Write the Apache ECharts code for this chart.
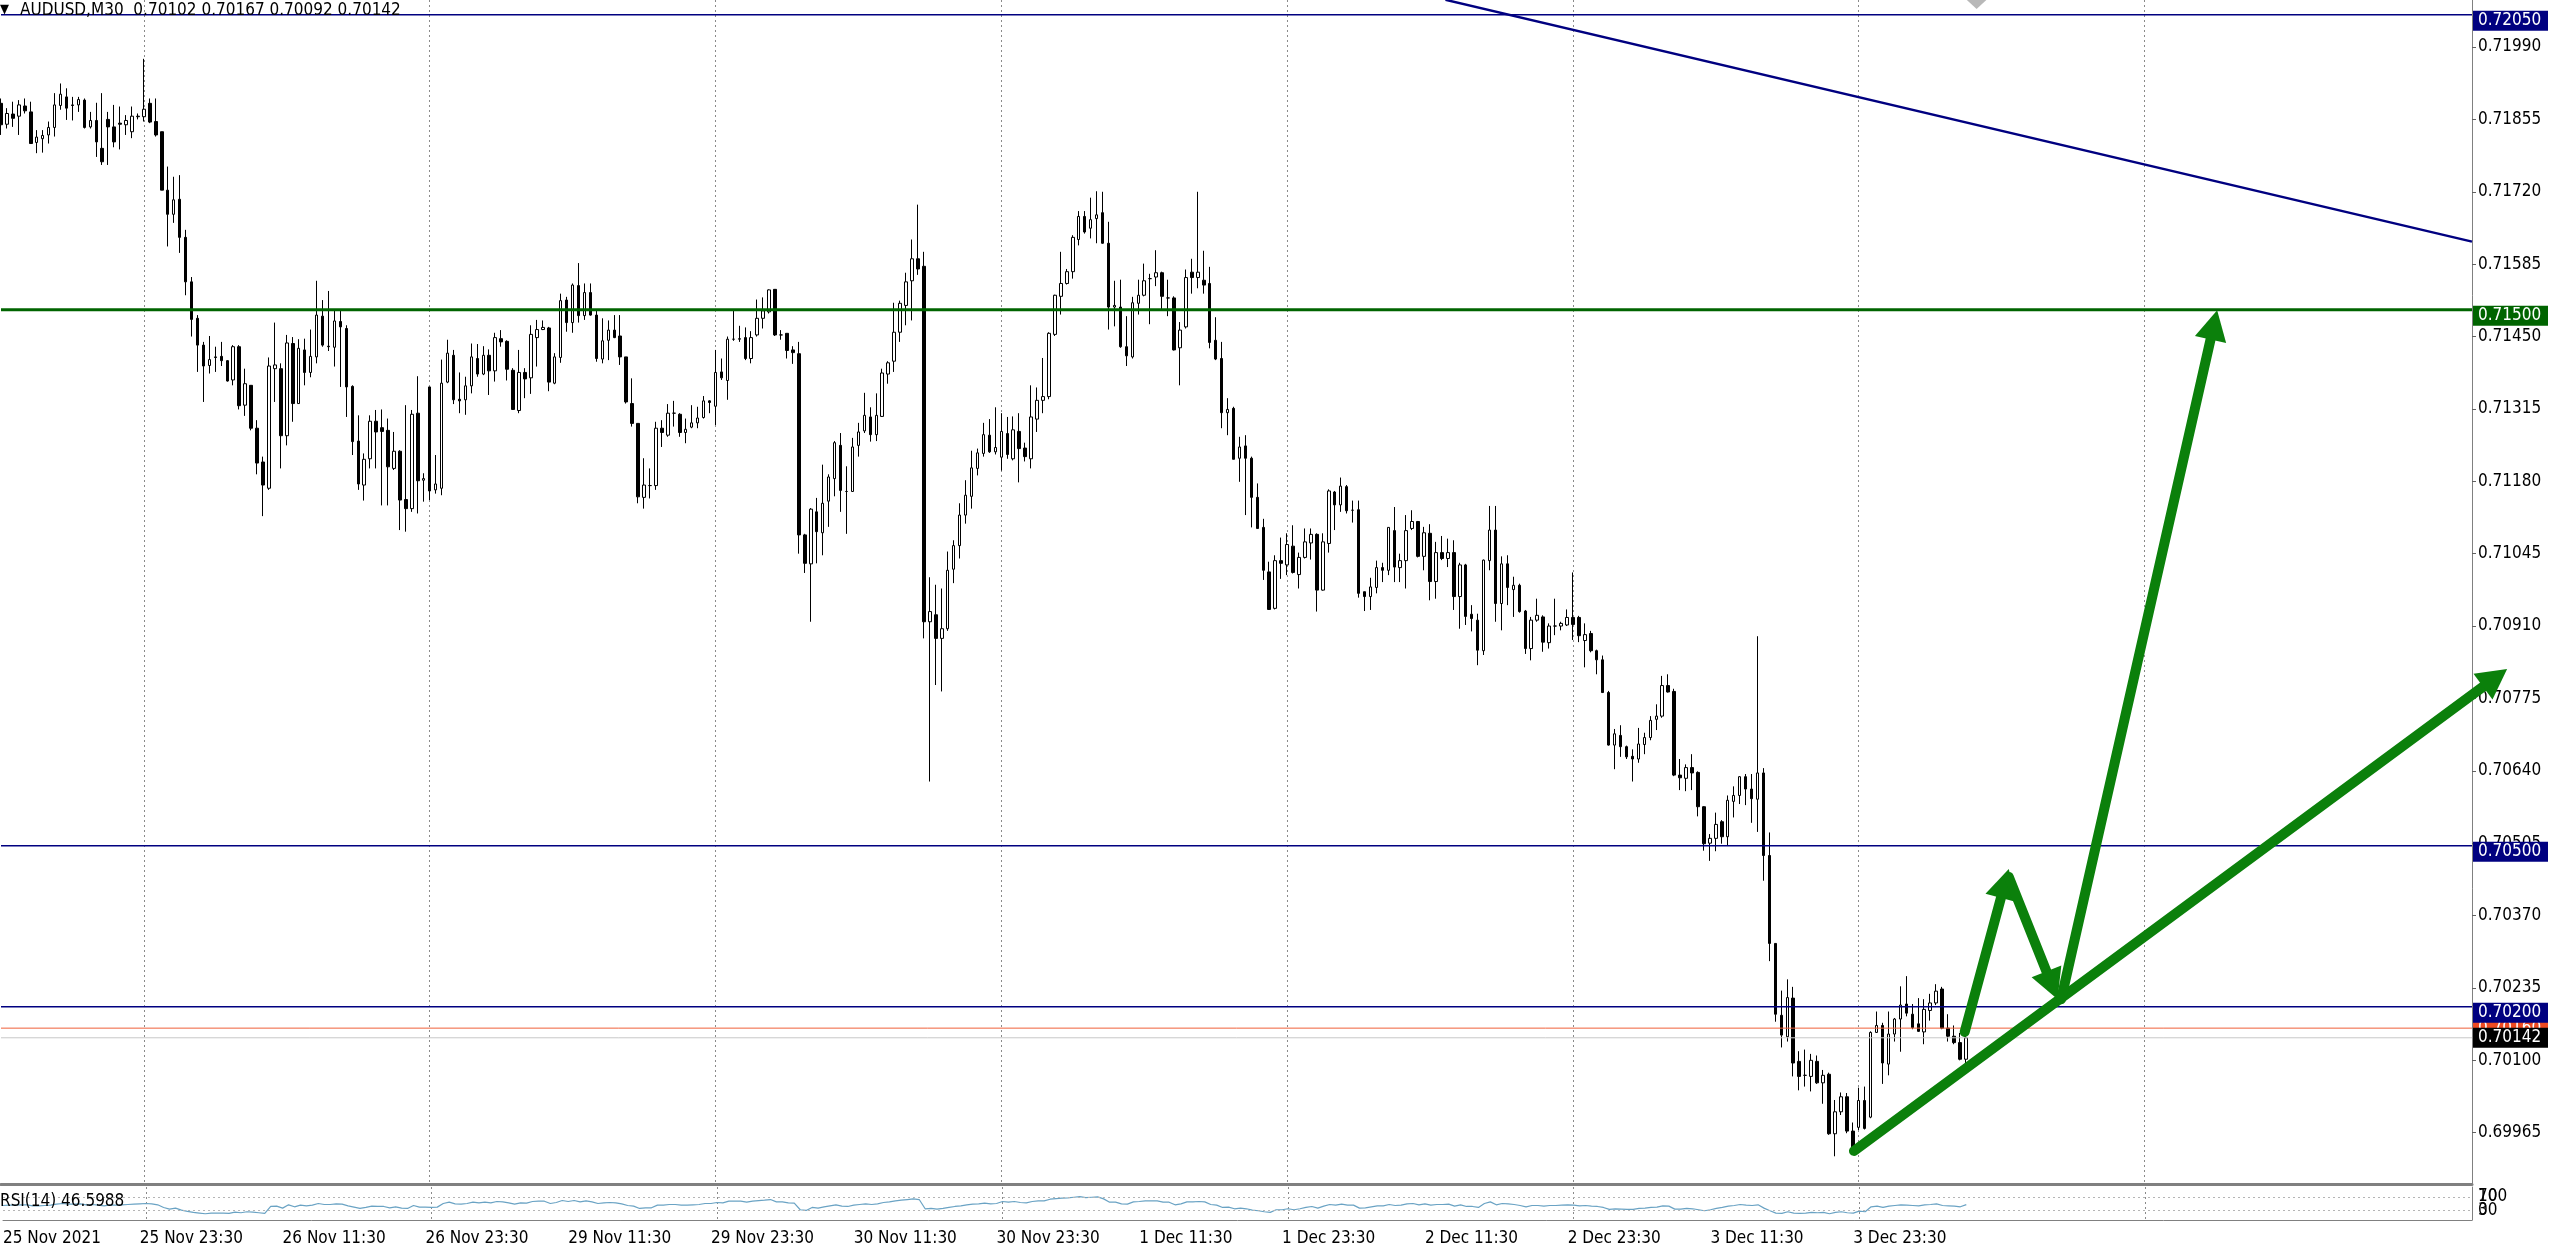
<!DOCTYPE html>
<html><head><meta charset="utf-8">
<script src="https://cdn.jsdelivr.net/npm/echarts@6/dist/echarts.min.js"></script>
<style>html,body{margin:0;padding:0;background:#fff;overflow:hidden}#c{width:2560px;height:1247px}</style>
</head><body><div id="c"></div>
<script>
const FONT = "'DejaVu Sans Condensed','DejaVu Sans','Liberation Sans',sans-serif";

// ---- candles (M30 bars, index 0 = 25 Nov 2021 11:30) ----
const opens = [0.71885,0.71846,0.71865,0.71861,0.71880,0.71869,0.71812,0.71819,0.71826,0.71840,0.71881,0.71897,0.71882,0.71882,0.71891,0.71841,0.71853,0.71801,0.71855,0.71841,0.71848,0.71845,0.71832,0.71860,0.71860,0.71885,0.71851,0.71832,0.71723,0.71678,0.71706,0.71635,0.71552,0.71484,0.71434,0.71396,0.71412,0.71413,0.71405,0.71369,0.71431,0.71322,0.71359,0.71279,0.71216,0.71167,0.71390,0.71390,0.71265,0.71437,0.71325,0.71425,0.71383,0.71412,0.71488,0.71432,0.71430,0.71478,0.71465,0.71357,0.71255,0.71173,0.71222,0.71292,0.71280,0.71275,0.71204,0.71236,0.71146,0.71129,0.71307,0.71182,0.71356,0.71164,0.71167,0.71365,0.71415,0.71333,0.71332,0.71358,0.71409,0.71380,0.71415,0.71386,0.71446,0.71441,0.71387,0.71312,0.71383,0.71373,0.71448,0.71463,0.71466,0.71363,0.71411,0.71518,0.71476,0.71545,0.71489,0.71532,0.71490,0.71408,0.71443,0.71462,0.71451,0.71412,0.71325,0.71288,0.71150,0.71172,0.71172,0.71279,0.71266,0.71307,0.71305,0.71271,0.71281,0.71289,0.71299,0.71330,0.71320,0.71384,0.71368,0.71445,0.71445,0.71448,0.71409,0.71453,0.71484,0.71496,0.71538,0.71453,0.71456,0.71425,0.71418,0.71080,0.71026,0.71123,0.71084,0.71143,0.71185,0.71247,0.71161,0.71161,0.71247,0.71274,0.71300,0.71267,0.71301,0.71380,0.71404,0.71458,0.71508,0.71554,0.71595,0.71581,0.70918,0.70931,0.70887,0.70905,0.71016,0.71060,0.71117,0.71152,0.71204,0.71232,0.71266,0.71235,0.71225,0.71269,0.71222,0.71273,0.71242,0.71222,0.71296,0.71331,0.71338,0.71454,0.71525,0.71549,0.71571,0.71631,0.71674,0.71652,0.71670,0.71681,0.71624,0.71505,0.71505,0.71431,0.71412,0.71512,0.71527,0.71558,0.71561,0.71569,0.71522,0.71522,0.71429,0.71468,0.71570,0.71560,0.71555,0.71549,0.71443,0.71409,0.71308,0.71316,0.71223,0.71246,0.71223,0.71150,0.71094,0.71011,0.70943,0.71032,0.71024,0.71059,0.71006,0.71038,0.71065,0.71081,0.70977,0.71064,0.71160,0.71136,0.71170,0.71126,0.71127,0.70974,0.70965,0.70982,0.71019,0.71014,0.71088,0.71019,0.71032,0.71092,0.71105,0.71040,0.71083,0.70993,0.71047,0.71036,0.71047,0.70965,0.71024,0.70932,0.70921,0.70864,0.71032,0.71089,0.70952,0.71026,0.70978,0.70986,0.70938,0.70868,0.70921,0.70927,0.70879,0.70910,0.70910,0.70912,0.70926,0.70926,0.70883,0.70896,0.70864,0.70847,0.70786,0.70688,0.70706,0.70685,0.70667,0.70662,0.70689,0.70702,0.70736,0.70742,0.70799,0.70788,0.70632,0.70626,0.70646,0.70637,0.70573,0.70505,0.70514,0.70545,0.70517,0.70583,0.70594,0.70629,0.70606,0.70587,0.70636,0.70482,0.70318,0.70184,0.70144,0.70216,0.70098,0.70072,0.70070,0.70098,0.70058,0.70074,0.69963,0.70004,0.70032,0.69968,0.69975,0.70025,0.69994,0.70152,0.70165,0.70093,0.70149,0.70177,0.70205,0.70186,0.70168,0.70153,0.70193,0.70207,0.70233,0.70160,0.70145,0.70133,0.70102];
const closes = [0.71845,0.71866,0.71857,0.71882,0.71871,0.71810,0.71822,0.71825,0.71840,0.71882,0.71902,0.71876,0.71881,0.71892,0.71840,0.71853,0.71813,0.71776,0.71841,0.71813,0.71846,0.71853,0.71861,0.71861,0.71874,0.71850,0.71826,0.71723,0.71678,0.71705,0.71635,0.71552,0.71482,0.71434,0.71395,0.71407,0.71411,0.71405,0.71367,0.71431,0.71321,0.71362,0.71279,0.71214,0.71173,0.71395,0.71397,0.71265,0.71438,0.71325,0.71428,0.71383,0.71413,0.71490,0.71434,0.71431,0.71479,0.71468,0.71356,0.71254,0.71175,0.71221,0.71292,0.71272,0.71273,0.71207,0.71236,0.71145,0.71129,0.71305,0.71181,0.71185,0.71162,0.71175,0.71363,0.71419,0.71332,0.71330,0.71358,0.71412,0.71380,0.71415,0.71386,0.71448,0.71440,0.71389,0.71314,0.71383,0.71371,0.71454,0.71463,0.71467,0.71365,0.71412,0.71517,0.71476,0.71546,0.71489,0.71532,0.71490,0.71409,0.71442,0.71462,0.71448,0.71412,0.71328,0.71288,0.71151,0.71173,0.71172,0.71279,0.71271,0.71307,0.71307,0.71271,0.71277,0.71289,0.71298,0.71330,0.71327,0.71383,0.71373,0.71445,0.71445,0.71446,0.71409,0.71448,0.71484,0.71498,0.71537,0.71453,0.71453,0.71424,0.71420,0.71080,0.71027,0.71128,0.71086,0.71139,0.71188,0.71252,0.71163,0.71161,0.71244,0.71272,0.71303,0.71267,0.71303,0.71382,0.71401,0.71458,0.71512,0.71552,0.71595,0.71576,0.70918,0.70937,0.70887,0.70905,0.71014,0.71060,0.71117,0.71154,0.71205,0.71233,0.71267,0.71235,0.71243,0.71273,0.71230,0.71276,0.71241,0.71226,0.71300,0.71331,0.71338,0.71456,0.71527,0.71549,0.71571,0.71635,0.71674,0.71645,0.71668,0.71677,0.71624,0.71505,0.71508,0.71431,0.71414,0.71513,0.71527,0.71554,0.71558,0.71569,0.71525,0.71522,0.71425,0.71462,0.71560,0.71560,0.71570,0.71546,0.71439,0.71408,0.71308,0.71314,0.71221,0.71244,0.71223,0.71150,0.71092,0.71014,0.70941,0.71032,0.71027,0.71062,0.71010,0.71038,0.71067,0.71081,0.70977,0.71067,0.71162,0.71136,0.71171,0.71125,0.71126,0.70971,0.70965,0.70983,0.71019,0.71014,0.71094,0.71020,0.71032,0.71088,0.71105,0.71040,0.71084,0.70993,0.71047,0.71036,0.71047,0.70965,0.71024,0.70928,0.70924,0.70865,0.71033,0.71089,0.70952,0.71026,0.70982,0.70986,0.70937,0.70868,0.70921,0.70930,0.70880,0.70910,0.70910,0.70915,0.70926,0.70913,0.70892,0.70894,0.70864,0.70847,0.70786,0.70688,0.70709,0.70685,0.70666,0.70662,0.70690,0.70702,0.70734,0.70742,0.70799,0.70787,0.70632,0.70627,0.70646,0.70636,0.70573,0.70504,0.70514,0.70540,0.70517,0.70585,0.70594,0.70629,0.70606,0.70588,0.70636,0.70482,0.70318,0.70186,0.70147,0.70217,0.70095,0.70070,0.70072,0.70100,0.70058,0.70072,0.69963,0.70004,0.70032,0.69968,0.69938,0.70025,0.69973,0.70152,0.70165,0.70095,0.70149,0.70177,0.70203,0.70188,0.70161,0.70154,0.70195,0.70207,0.70229,0.70160,0.70145,0.70133,0.70102,0.70142];
const lows = [0.71826,0.71838,0.71841,0.71826,0.71866,0.71810,0.71792,0.71793,0.71810,0.71823,0.71873,0.71854,0.71853,0.71869,0.71838,0.71838,0.71785,0.71770,0.71770,0.71803,0.71799,0.71826,0.71820,0.71855,0.71851,0.71848,0.71823,0.71723,0.71618,0.71662,0.71606,0.71527,0.71450,0.71384,0.71328,0.71381,0.71384,0.71395,0.71366,0.71359,0.71314,0.71302,0.71275,0.71193,0.71115,0.71164,0.71328,0.71204,0.71247,0.71291,0.71325,0.71359,0.71374,0.71400,0.71431,0.71423,0.71394,0.71356,0.71300,0.71229,0.71164,0.71144,0.71204,0.71204,0.71135,0.71135,0.71201,0.71089,0.71086,0.71123,0.71120,0.71142,0.71145,0.71157,0.71154,0.71363,0.71324,0.71307,0.71304,0.71344,0.71375,0.71378,0.71341,0.71366,0.71431,0.71368,0.71313,0.71307,0.71335,0.71343,0.71394,0.71462,0.71348,0.71361,0.71401,0.71459,0.71457,0.71476,0.71481,0.71489,0.71403,0.71400,0.71406,0.71447,0.71397,0.71325,0.71282,0.71139,0.71129,0.71148,0.71164,0.71244,0.71263,0.71282,0.71263,0.71251,0.71279,0.71279,0.71297,0.71307,0.71285,0.71369,0.71332,0.71442,0.71440,0.71406,0.71400,0.71450,0.71465,0.71493,0.71451,0.71444,0.71409,0.71399,0.71045,0.71009,0.70918,0.71027,0.71042,0.71095,0.71152,0.71123,0.71082,0.71160,0.71226,0.71270,0.71254,0.71255,0.71300,0.71362,0.71384,0.71440,0.71471,0.71480,0.71565,0.70887,0.70620,0.70800,0.70788,0.70901,0.70990,0.71036,0.71101,0.71129,0.71191,0.71226,0.71233,0.71230,0.71200,0.71222,0.71219,0.71178,0.71217,0.71204,0.71272,0.71307,0.71333,0.71451,0.71491,0.71547,0.71558,0.71620,0.71642,0.71633,0.71624,0.71623,0.71463,0.71469,0.71429,0.71395,0.71409,0.71491,0.71525,0.71473,0.71544,0.71500,0.71488,0.71424,0.71359,0.71465,0.71530,0.71540,0.71530,0.71428,0.71406,0.71279,0.71266,0.71221,0.71179,0.71117,0.71094,0.71092,0.70996,0.70940,0.70941,0.70998,0.71005,0.71008,0.70980,0.71036,0.71034,0.70937,0.70976,0.71047,0.71089,0.71123,0.71120,0.71103,0.70963,0.70938,0.70940,0.70971,0.70992,0.71005,0.70992,0.70992,0.70980,0.71089,0.71038,0.71014,0.70958,0.70961,0.71033,0.71020,0.70940,0.70905,0.70912,0.70900,0.70837,0.70856,0.71014,0.70918,0.70902,0.70949,0.70927,0.70935,0.70858,0.70846,0.70918,0.70862,0.70868,0.70893,0.70902,0.70910,0.70884,0.70880,0.70833,0.70861,0.70820,0.70785,0.70687,0.70643,0.70666,0.70662,0.70620,0.70655,0.70671,0.70697,0.70716,0.70739,0.70786,0.70630,0.70604,0.70602,0.70604,0.70555,0.70491,0.70472,0.70490,0.70504,0.70501,0.70553,0.70578,0.70576,0.70543,0.70526,0.70435,0.70285,0.70172,0.70124,0.70135,0.70070,0.70044,0.70051,0.70042,0.70056,0.70019,0.69961,0.69921,0.69998,0.69964,0.69935,0.69970,0.69971,0.69992,0.70151,0.70056,0.70072,0.70135,0.70116,0.70182,0.70158,0.70153,0.70130,0.70174,0.70203,0.70158,0.70135,0.70130,0.70100,0.70092];
const highs = [0.71894,0.71876,0.71888,0.71891,0.71894,0.71888,0.71835,0.71835,0.71851,0.71904,0.71922,0.71913,0.71897,0.71897,0.71894,0.71869,0.71886,0.71904,0.71869,0.71882,0.71879,0.71863,0.71879,0.71866,0.71968,0.71894,0.71894,0.71832,0.71767,0.71748,0.71751,0.71649,0.71561,0.71490,0.71440,0.71451,0.71431,0.71440,0.71406,0.71434,0.71434,0.71390,0.71359,0.71294,0.71226,0.71411,0.71476,0.71400,0.71453,0.71449,0.71445,0.71446,0.71463,0.71554,0.71518,0.71535,0.71498,0.71500,0.71471,0.71359,0.71303,0.71232,0.71303,0.71313,0.71314,0.71297,0.71272,0.71238,0.71322,0.71313,0.71376,0.71195,0.71356,0.71229,0.71407,0.71444,0.71425,0.71383,0.71375,0.71437,0.71436,0.71432,0.71426,0.71457,0.71462,0.71443,0.71391,0.71425,0.71391,0.71471,0.71481,0.71480,0.71468,0.71419,0.71530,0.71524,0.71549,0.71587,0.71549,0.71549,0.71499,0.71484,0.71480,0.71490,0.71490,0.71412,0.71372,0.71288,0.71223,0.71204,0.71291,0.71294,0.71324,0.71330,0.71307,0.71297,0.71322,0.71319,0.71339,0.71331,0.71425,0.71409,0.71450,0.71499,0.71470,0.71467,0.71460,0.71519,0.71523,0.71538,0.71538,0.71462,0.71456,0.71432,0.71440,0.71082,0.71130,0.71149,0.71211,0.71193,0.71255,0.71270,0.71208,0.71261,0.71289,0.71345,0.71318,0.71344,0.71390,0.71404,0.71513,0.71517,0.71569,0.71631,0.71696,0.71608,0.71001,0.70987,0.70980,0.71049,0.71070,0.71139,0.71182,0.71237,0.71241,0.71289,0.71296,0.71318,0.71307,0.71300,0.71301,0.71307,0.71252,0.71359,0.71355,0.71410,0.71458,0.71528,0.71608,0.71576,0.71639,0.71684,0.71684,0.71709,0.71721,0.71720,0.71664,0.71554,0.71556,0.71488,0.71524,0.71556,0.71586,0.71567,0.71611,0.71571,0.71556,0.71525,0.71477,0.71575,0.71595,0.71720,0.71610,0.71580,0.71486,0.71440,0.71335,0.71319,0.71263,0.71266,0.71226,0.71176,0.71110,0.71030,0.71042,0.71075,0.71083,0.71098,0.71047,0.71092,0.71092,0.71083,0.71083,0.71165,0.71162,0.71187,0.71173,0.71144,0.71144,0.70974,0.71000,0.71032,0.71028,0.71094,0.71132,0.71045,0.71117,0.71126,0.71106,0.71095,0.71100,0.71067,0.71078,0.71073,0.71070,0.71028,0.71026,0.70949,0.70933,0.71034,0.71134,0.71134,0.71040,0.71042,0.71002,0.70989,0.70940,0.70927,0.70961,0.70930,0.70915,0.70961,0.70918,0.70941,0.71010,0.70929,0.70915,0.70901,0.70866,0.70855,0.70789,0.70718,0.70725,0.70687,0.70680,0.70720,0.70711,0.70742,0.70764,0.70817,0.70820,0.70793,0.70662,0.70652,0.70671,0.70639,0.70574,0.70522,0.70562,0.70548,0.70594,0.70611,0.70630,0.70634,0.70634,0.70891,0.70645,0.70525,0.70318,0.70230,0.70251,0.70237,0.70117,0.70120,0.70112,0.70109,0.70082,0.70077,0.70026,0.70040,0.70039,0.69984,0.70049,0.70051,0.70154,0.70191,0.70170,0.70191,0.70179,0.70238,0.70257,0.70205,0.70216,0.70214,0.70224,0.70242,0.70237,0.70186,0.70165,0.70151,0.70167];

// ---- RSI(14) read from the lower window ----
const rsi14 = [44,45,45,46,46,43,43,44,45,48,50,48,48,49,46,47,45,43,46,45,46,47,48,49,50,49,46,38,33,36,30,26,23,21,19,21,21,21,20,24,22,25,24,22,20,41,42,36,46,40,45,43,45,50,47,47,49,48,43,39,35,38,42,41,41,37,40,36,35,44,39,39,38,39,50,54,49,48,50,54,52,54,52,56,55,52,48,52,51,56,57,57,50,53,59,56,59,55,58,55,50,52,53,52,49,44,42,35,37,37,45,45,47,47,45,45,46,47,50,50,53,52,57,57,57,54,57,59,60,62,55,55,52,51,31,29,38,36,40,43,46,42,41,45,47,49,47,49,53,55,58,60,62,64,62,34,35,33,35,38,41,43,46,48,49,51,49,50,56,54,56,53,52,56,58,58,63,65,66,67,69,71,68,69,70,64,54,54,49,48,55,56,58,58,58,54,54,46,49,55,55,56,55,47,45,38,39,34,36,34,30,28,25,23,31,31,34,31,34,38,41,36,42,47,45,48,45,45,36,37,40,43,43,47,44,45,49,50,46,49,45,47,47,48,42,46,41,41,38,50,55,46,50,49,47,44,40,44,44,42,44,44,45,46,45,43,44,42,41,38,32,34,33,32,32,35,36,38,39,43,42,33,33,35,34,31,28,31,35,38,42,44,47,45,44,46,36,28,21,20,25,21,20,21,23,22,23,19,23,25,22,21,27,25,40,42,38,42,44,46,45,44,43,46,47,49,44,43,42,40,46.5988];

// ---- axes / ticks ----
const totalBars = 416;                // 331 drawn bars + empty space to the right
const yTickLabels = [0.69965,0.70100,0.70235,0.70370,0.70505,0.70640,0.70775,0.70910,0.71045,0.71180,0.71315,0.71450,0.71585,0.71720,0.71855,0.71990];
const yMin = 0.698693, yMax = 0.720777;
const xTickLabels = ['25 Nov 2021','25 Nov 23:30','26 Nov 11:30','26 Nov 23:30','29 Nov 11:30','29 Nov 23:30','30 Nov 11:30','30 Nov 23:30','1 Dec 11:30','1 Dec 23:30','2 Dec 11:30','2 Dec 23:30','3 Dec 11:30','3 Dec 23:30'];
const xTickBars = [0,24,48,72,96,120,144,168,192,216,240,264,288,312];
const gridBars = [24,72,120,168,216,264,312,360];
const rsiLevels = [70, 30];
// RSI window scale labels: [position level, text] (max/min labels squeezed onto the level rows)
const rsiScaleLabels = [[70, '70'], [70, '100'], [30, '30'], [30, '0']];

// ---- drawn objects ----
const levelPrices = [0.72050, 0.71500, 0.70500, 0.70200];
const levelColors = ['#000080', '#006400', '#000080', '#000080'];
const levelWidths = [1.5, 3, 1.5, 1.5];
const bidPrice = 0.70142, askPrice = 0.70160;
const trendLine = [[242.6, 0.72078], [415.0, 0.71627]];
const arrows = [
  [311.2, 0.69931, 420.9, 0.70830],
  [329.8, 0.70153, 337.2, 0.70457],
  [337.2, 0.70442, 345.4, 0.70214],
  [346.0, 0.70214, 372.2, 0.71499]
];
const topMarker = [331.8, 0.72063];

const cats = Array.from({length: totalBars}, (_, i) => String(i));
const labelPos = xTickBars.map(b => b === 0 ? 0 : b - 1);
const ohlc = opens.map((o, i) => [o, closes[i], lows[i], highs[i]]);
const last = opens.length - 1;

const GREEN = '#0b800b';
function overlay(params, api) {
  const cs = params.coordSys;
  const c0 = api.coord([0, yMax])[0], c1 = api.coord([1, yMax])[0];
  const px = i => c0 + i * (c1 - c0);
  const py = p => api.coord([0, p])[1];
  const right = cs.x + cs.width;
  const ch = [];
  const font = '17px ' + FONT;
  const box = (p, fill, dy, z) => {
    const y = py(p) + dy;
    ch.push({type: 'rect', z2: z, shape: {x: right + 1, y: y - 10, width: 75, height: 20}, style: {fill}});
    ch.push({type: 'text', z2: z + 1, style: {text: p.toFixed(5), x: right + 6, y: y, fill: '#fff', font, align: 'left', verticalAlign: 'middle'}});
  };
  // bid / ask lines
  ch.push({type: 'line', z2: 1, shape: {x1: cs.x, y1: py(bidPrice), x2: right, y2: py(bidPrice)}, style: {stroke: '#c8c8c8', lineWidth: 1}});
  ch.push({type: 'line', z2: 1, shape: {x1: cs.x, y1: py(askPrice), x2: right, y2: py(askPrice)}, style: {stroke: '#f0603a', lineWidth: 1}});
  box(askPrice, '#ee4a22', 0, 2);
  levelPrices.forEach((p, k) => {
    ch.push({type: 'line', z2: 3, shape: {x1: cs.x, y1: py(p), x2: right, y2: py(p)}, style: {stroke: levelColors[k], lineWidth: levelWidths[k]}});
    box(p, levelColors[k], 6, 4);
  });
  box(bidPrice, '#000', 0, 6);
  // trend line
  ch.push({type: 'line', z2: 3, shape: {x1: px(trendLine[0][0]), y1: py(trendLine[0][1]), x2: px(trendLine[1][0]), y2: py(trendLine[1][1])}, style: {stroke: '#000080', lineWidth: 2.5}});
  // grey marker at top
  const mx = px(topMarker[0]), my = py(topMarker[1]);
  ch.push({type: 'polygon', z2: 3, shape: {points: [[mx - 11, my - 9], [mx + 11, my - 9], [mx, my + 1]]}, style: {fill: '#b8b8b8'}});
  // green arrows
  arrows.forEach(a => {
    const xa = px(a[0]), ya = py(a[1]), xb = px(a[2]), yb = py(a[3]);
    const dx = xb - xa, dy = yb - ya, len = Math.hypot(dx, dy);
    const ux = dx / len, uy = dy / len, hl = 30, hw = 16;
    const bx = xb - ux * hl, by = yb - uy * hl;
    ch.push({type: 'line', z2: 8, shape: {x1: xa, y1: ya, x2: bx + ux * 4, y2: by + uy * 4}, style: {stroke: GREEN, lineWidth: 10, lineCap: 'round'}});
    ch.push({type: 'polygon', z2: 8, shape: {points: [[xb, yb], [bx - uy * hw, by + ux * hw], [bx + uy * hw, by - ux * hw]]}, style: {fill: GREEN}});
  });
  return {type: 'group', children: ch};
}

const chart = echarts.init(document.getElementById('c'), null, {renderer: 'canvas'});
const axisFont = {fontSize: 17, color: '#000', fontFamily: FONT};
const dotted = {color: '#8a8a8a', type: [2, 3], width: 1};

const rsiAxes = rsiScaleLabels.map((lab, k) => ({
  gridIndex: 1, type: 'value', position: 'right', min: 0, max: 100,
  axisLine: {show: k === 0, lineStyle: {color: '#808080'}}, axisTick: {show: false}, splitLine: {show: false},
  axisLabel: Object.assign({customValues: [lab[0]], margin: 6, showMinLabel: true, showMaxLabel: true, formatter: () => lab[1]}, axisFont)
}));

chart.setOption({
  animation: false,
  backgroundColor: '#fff',
  title: [
    {text: '▼', left: 0, top: 3, padding: 0, textStyle: {fontSize: 13, fontWeight: 'normal', color: '#000', fontFamily: FONT}},
    {text: 'AUDUSD,M30  ' + [opens[last], highs[last], lows[last], closes[last]].map(v => v.toFixed(5)).join(' '), left: 20, top: 2, padding: 0, textStyle: {fontSize: 17, fontWeight: 'normal', color: '#000', fontFamily: FONT}},
    {text: 'RSI(14) ' + rsi14[last].toFixed(4), left: 0, top: 1193, padding: 0, textStyle: {fontSize: 17, fontWeight: 'normal', color: '#000', fontFamily: FONT}}
  ],
  grid: [
    {left: 1, top: 0, width: 2471, height: 1184},
    {left: 1, top: 1187, width: 2471, height: 39}
  ],
  xAxis: [
    {gridIndex: 0, type: 'category', data: cats, boundaryGap: false, min: 0, max: totalBars - 1,
     axisLine: {show: true, onZero: false, lineStyle: {color: '#808080', width: 3}}, axisTick: {show: false}, axisLabel: {show: false},
     splitLine: {show: true, interval: i => gridBars.includes(i), lineStyle: dotted}},
    {gridIndex: 1, type: 'category', data: cats, boundaryGap: false, min: 0, max: totalBars - 1,
     axisLine: {show: true, onZero: false, lineStyle: {color: '#808080', width: 1}}, axisTick: {show: false},
     axisLabel: Object.assign({show: true, margin: 10, align: 'left', interval: i => labelPos.includes(i),
       formatter: (v, i) => { const k = labelPos.indexOf(i); return k >= 0 ? xTickLabels[k] : ''; }}, axisFont),
     splitLine: {show: true, interval: i => gridBars.includes(i), lineStyle: dotted}}
  ],
  yAxis: [
    {gridIndex: 0, type: 'value', position: 'right', min: yMin, max: yMax, scale: true,
     axisLine: {show: true, lineStyle: {color: '#808080'}},
     axisTick: {show: true, length: 4, customValues: yTickLabels, lineStyle: {color: '#606060'}},
     axisLabel: Object.assign({customValues: yTickLabels, margin: 6, showMinLabel: true, showMaxLabel: true, formatter: v => v.toFixed(5)}, axisFont),
     splitLine: {show: false}}
  ].concat(rsiAxes),
  series: [
    {type: 'candlestick', name: 'AUDUSD', xAxisIndex: 0, yAxisIndex: 0, data: ohlc, barWidth: 3, z: 2,
     itemStyle: {color: '#ffffff', color0: '#000000', borderColor: '#000000', borderColor0: '#000000', borderColorDoji: '#000000', borderWidth: 1}},
    {type: 'line', name: 'RSI', xAxisIndex: 1, yAxisIndex: 1, data: rsi14, symbol: 'none', z: 2,
     lineStyle: {color: '#6aa3c4', width: 1.2},
     markLine: {silent: true, symbol: 'none', label: {show: false}, lineStyle: {color: '#b5b5b5', type: [2, 3], width: 1},
       data: rsiLevels.map(v => ({yAxis: v}))}},
    {type: 'custom', name: 'objects', xAxisIndex: 0, yAxisIndex: 0, clip: false, z: 5, silent: true,
     data: [[0, levelPrices[0]]], renderItem: overlay}
  ]
});
</script></body></html>
